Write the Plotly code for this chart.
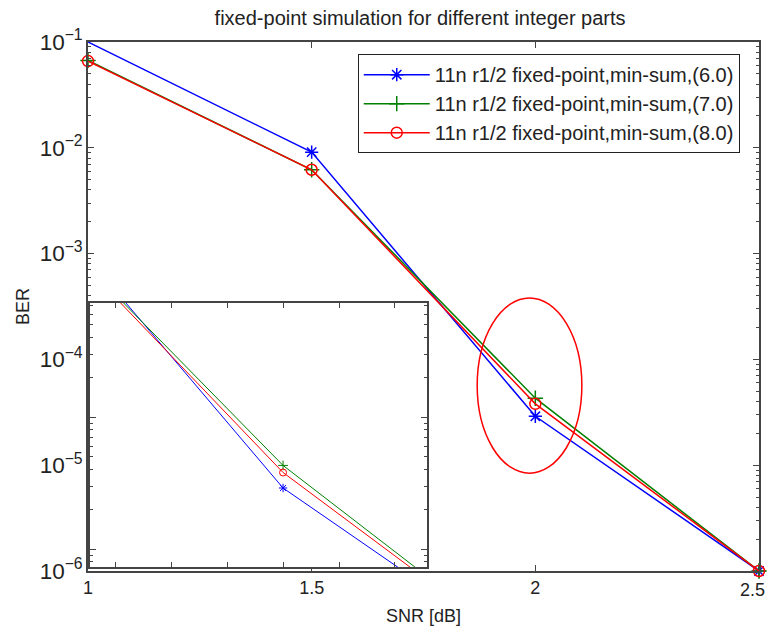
import plotly.graph_objects as go

snr = [1.0, 1.5, 2.0, 2.5]
ber_6 = [0.1, 0.0091, 2.9e-5, 1e-6]
ber_7 = [0.067, 0.0062, 4.3e-5, 1e-6]
ber_8 = [0.066, 0.0062, 3.8e-5, 1e-6]
names = ["11n r1/2 fixed-point,min-sum,(6.0)",
         "11n r1/2 fixed-point,min-sum,(7.0)",
         "11n r1/2 fixed-point,min-sum,(8.0)"]
x_ticks = [1, 1.5, 2, 2.5]
x_ticklabels = ["1", "1.5", "2", "2.5"]
colors = ["#0000ff", "#008000", "#ff0000"]
symbols = ["asterisk-open", "cross-thin-open", "circle-open"]
series = [ber_6, ber_7, ber_8]

FONT = "Liberation Sans, Arial, sans-serif"
fig = go.Figure()

for s, n, c, sym in zip(series, names, colors, symbols):
    fig.add_trace(go.Scatter(x=snr, y=s, name=n, mode="lines+markers",
                             line=dict(color=c, width=1.5),
                             marker=dict(symbol=sym, size=11, color=c, line=dict(color=c, width=1.5)),
                             cliponaxis=False, xaxis="x", yaxis="y"))

for s, n, c, sym in zip(series, names, colors, symbols):
    fig.add_trace(go.Scatter(x=snr, y=s, name=n, mode="lines+markers", showlegend=False,
                             line=dict(color=c, width=1),
                             marker=dict(symbol=sym, size=7, color=c, line=dict(color=c, width=1)),
                             xaxis="x2", yaxis="y2"))

axcommon = dict(showline=True, linecolor="#444", linewidth=1.5, mirror="ticks",
                ticks="inside", tickcolor="#444", showgrid=False, zeroline=False,
                automargin=False)

# last x tick label drawn right-aligned so it stays inside the page
shown_vals = x_ticks[:-1]
shown_text = x_ticklabels[:-1]

fig.update_layout(
    width=768, height=628,
    margin=dict(l=88, r=9, t=42, b=57),
    paper_bgcolor="white", plot_bgcolor="white",
    font=dict(family=FONT, size=18, color="#222"),
    title=dict(text="fixed-point simulation for different integer parts",
               x=0.547, xanchor="center", y=0.971, yanchor="middle",
               font=dict(size=20, family=FONT, color="#222")),
    xaxis=dict(range=[1, 2.5], tickvals=x_ticks, ticktext=shown_text + [""],
               ticklen=6, domain=[0, 1],
               title=dict(text="SNR [dB]", font=dict(size=18), standoff=12),
               tickfont=dict(size=18), **axcommon),
    yaxis=dict(type="log", range=[-6, -1], dtick=1, exponentformat="power", showexponent="all",
               ticklen=6, domain=[0, 1],
               minor=dict(ticks="inside", ticklen=3, tickcolor="#444", showgrid=False),
               title=dict(text="BER", font=dict(size=18), standoff=5),
               tickfont=dict(size=18), **axcommon),
    xaxis2=dict(range=[1.655, 2.257], dtick=0.1, ticklen=5, showticklabels=False,
                domain=[0.003, 0.505], anchor="y2", **axcommon),
    yaxis2=dict(type="log", range=[-5.136, -3.136], dtick=1, ticklen=6, showticklabels=False,
                minor=dict(ticks="inside", ticklen=3, tickcolor="#444", showgrid=False),
                domain=[0.0076, 0.5066], anchor="x2", **axcommon),
    legend=dict(x=0.402, y=0.977, xanchor="left", yanchor="top",
                bgcolor="white", bordercolor="#222", borderwidth=1,
                font=dict(size=20, family=FONT, color="#222"),
                tracegroupgap=0, itemwidth=66),
    annotations=[
        dict(text=x_ticklabels[-1], xref="paper", yref="paper", x=1.0 + 8.0 / 671, y=0,
             xanchor="right", yanchor="top", yshift=-7, showarrow=False,
             font=dict(size=18, family=FONT, color="#222")),
    ],
    shapes=[
        dict(type="rect", xref="paper", yref="paper", x0=0.003, x1=0.505, y0=0.0076, y1=0.5066,
             fillcolor="white", line=dict(width=0), layer="below"),
        dict(type="circle", xref="paper", yref="paper", x0=0.580, x1=0.736, y0=0.185, y1=0.516,
             line=dict(color="#ff0000", width=1.5)),
    ],
)

fig.write_html("out.html")
